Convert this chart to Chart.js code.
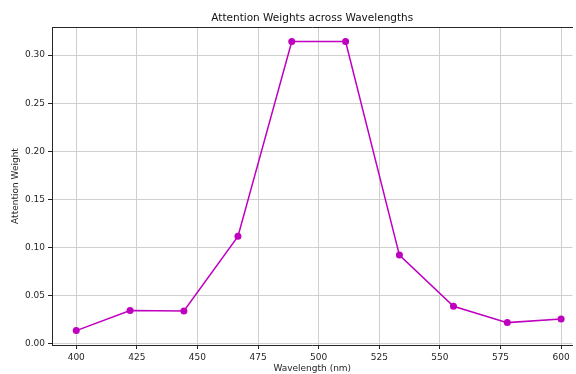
<!DOCTYPE html>
<html>
<head>
<meta charset="utf-8">
<script src="https://cdn.jsdelivr.net/npm/chart.js@4"></script>
<style>
  html, body { margin: 0; padding: 0; background: #fff; overflow: hidden; }
  canvas { display: block; }
</style>
</head>
<body>
<canvas id="attnChart" width="576" height="374"></canvas>
<script>
// wavelengths (nm) and attention weights
const wavelengths = [400, 422.2, 444.4, 466.7, 488.9, 511.1, 533.3, 555.6, 577.8, 600];
const weights = [0.0132, 0.0342, 0.0337, 0.1113, 0.3142, 0.3142, 0.0918, 0.0385, 0.0215, 0.0252];
const xTicks = [400, 425, 450, 475, 500, 525, 550, 575, 600];
const yTicks = [0, 0.05, 0.10, 0.15, 0.20, 0.25, 0.30];

const fontFam = "'DejaVu Sans', sans-serif";
const gridCol = '#cfcfcf';
const spineCol = '#262626';

// fixed box sizes for the axes
function fixBox(s, size) {
    if (s.isHorizontal()) s.height = size; else s.width = size;
    s.paddingLeft = 0;
    s.paddingRight = 0;
}

const data = {
    datasets: [{
        label: 'Attention',
        data: wavelengths.map((w, i) => ({ x: w, y: weights[i] })),
        borderColor: '#bf00bf',
        backgroundColor: '#bf00bf',
        borderWidth: 1.5,
        pointRadius: 3.5,
        pointHoverRadius: 3.5,
        pointBorderWidth: 0,
        tension: 0
    }]
};

const config = {
    type: 'line',
    data: data,
    options: {
        responsive: false,
        animation: false,
        layout: { padding: 0 },
        plugins: {
            legend: { display: false },
            tooltip: { enabled: false }
        },
        scales: {
            x: {
                type: 'linear',
                position: 'bottom',
                min: 390,
                max: 604.7,
                afterBuildTicks: s => { s.ticks = xTicks.map(v => ({ value: v })); },
                afterFit: s => fixBox(s, 29),
                ticks: {
                    color: spineCol,
                    font: { family: fontFam, size: 9 },
                    padding: 3,
                    maxRotation: 0,
                    callback: v => String(v)
                },
                grid: { color: gridCol, lineWidth: 1, tickColor: spineCol, tickLength: 4 },
                border: { display: true, color: spineCol, width: 1 },
                title: {
                    display: true,
                    text: 'Wavelength (nm)',
                    color: spineCol,
                    font: { family: fontFam, size: 9 },
                    padding: { top: 0, bottom: 0 }
                }
            },
            top: {
                type: 'linear',
                position: 'top',
                min: 0,
                max: 1,
                afterFit: s => fixBox(s, 27),
                ticks: { display: false },
                grid: { display: false },
                border: { display: true, color: spineCol, width: 1 },
                title: {
                    display: true,
                    text: 'Attention Weights across Wavelengths',
                    color: '#111',
                    font: { family: fontFam, size: 10.5 },
                    padding: { top: 12, bottom: 0 }
                }
            },
            y: {
                type: 'linear',
                min: -0.0018,
                max: 0.3293,
                afterBuildTicks: s => { s.ticks = yTicks.map(v => ({ value: v })); },
                afterFit: s => fixBox(s, 52),
                ticks: {
                    color: spineCol,
                    font: { family: fontFam, size: 9 },
                    padding: 3,
                    callback: v => v.toFixed(2)
                },
                grid: { color: gridCol, lineWidth: 1, tickColor: spineCol, tickLength: 4 },
                border: { display: true, color: spineCol, width: 1 },
                title: {
                    display: true,
                    text: 'Attention Weight',
                    color: spineCol,
                    font: { family: fontFam, size: 9 },
                    padding: { top: 10, bottom: 0 }
                }
            }
        }
    }
};

const attnChart = new Chart(document.getElementById('attnChart'), config);
</script>
</body>
</html>
